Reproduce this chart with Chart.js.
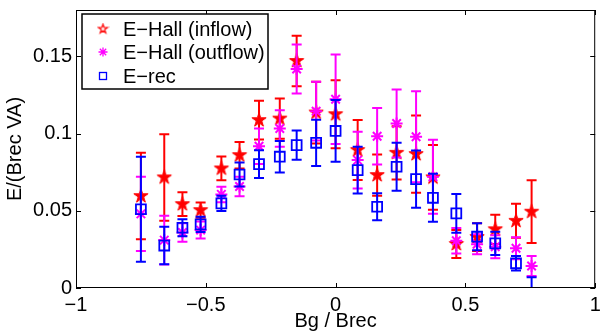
<!DOCTYPE html>
<html>
<head>
<meta charset="utf-8">
<title>E-Hall vs Bg/Brec</title>
<script src="https://cdn.jsdelivr.net/npm/chart.js"></script>
<style>
  html, body { margin: 0; padding: 0; background: #ffffff; }
</style>
</head>
<body>
<canvas id="myChart" width="604" height="333"></canvas>
<script>
// guide field Bg/Brec, shared by all three series
const bg = [-0.75, -0.66, -0.59, -0.52, -0.44, -0.37, -0.295, -0.215, -0.15, -0.075, 0,
            0.085, 0.16, 0.235, 0.31, 0.375, 0.465, 0.545, 0.615, 0.695, 0.755];

const hallIn    = [0.0595, 0.0716, 0.0543, 0.0504, 0.0774, 0.086, 0.1087, 0.1097, 0.147, 0.1136, 0.1125,
                   0.0893, 0.0731, 0.0875, 0.0867, 0.0716, 0.0285, 0.033, 0.038, 0.0435, 0.0494];
const hallInErr = [0.028, 0.028, 0.0077, 0.0049, 0.0077, 0.0086, 0.0125, 0.013, 0.0163, 0.02, 0.022,
                   0.0194, 0.0134, 0.0172, 0.025, 0.021, 0.009, 0.009, 0.0095, 0.011, 0.0203];

const hallOut    = [0.048, 0.031, 0.0359, 0.0375, 0.0606, 0.0657, 0.0918, 0.1033, 0.1418, 0.1145, 0.1222,
                    0.0828, 0.0983, 0.1065, 0.0979, 0.072, 0.0306, 0.0283, 0.0267, 0.0257, 0.0142];
const hallOutErr = [0.024, 0.0158, 0.006, 0.0055, 0.005, 0.0063, 0.0115, 0.0118, 0.0158, 0.019, 0.029,
                    0.0183, 0.0183, 0.022, 0.0295, 0.024, 0.0083, 0.0065, 0.0075, 0.0071, 0.0065];

const eRec    = [0.051, 0.0275, 0.039, 0.0412, 0.0548, 0.0735, 0.0802, 0.085, 0.0925, 0.094, 0.1017,
                 0.0763, 0.0526, 0.0785, 0.0705, 0.0584, 0.0483, 0.0332, 0.0289, 0.016, -0.005];
const eRecErr = [0.034, 0.0122, 0.0055, 0.0049, 0.005, 0.0078, 0.009, 0.0102, 0.0095, 0.015, 0.02,
                 0.0151, 0.0087, 0.0155, 0.0185, 0.0155, 0.0125, 0.0088, 0.0076, 0.0047, 0.012];

const xTicks = [-1, -0.5, 0, 0.5, 1];
const yTicks = [0, 0.05, 0.1, 0.15];

const FONT = { family: 'Liberation Sans', size: 20 };

function starImage(R, fill, lw) {
    var size = Math.ceil(2 * R + lw + 2);
    var c = document.createElement('canvas');
    c.width = size; c.height = size;
    var g = c.getContext('2d');
    g.translate(size / 2, size / 2);
    g.beginPath();
    for (var k = 0; k < 10; k++) {
        var r = k % 2 ? R * 0.382 : R;
        var a = -Math.PI / 2 + k * Math.PI / 5;
        g.lineTo(r * Math.cos(a), r * Math.sin(a));
    }
    g.closePath();
    if (fill) { g.fillStyle = fill; g.fill(); }
    g.strokeStyle = '#ff0000';
    g.lineWidth = lw;
    g.stroke();
    return c;
}

const redStar = starImage(7.5, '#ff0000', 1);
const legendStar = starImage(4.8, null, 1.2);

function pts(ys) { return bg.map((x, i) => ({ x: x, y: ys[i] })); }

function fmt(v) { return v < 0 ? '\u2212' + Math.abs(v) : String(v); }

const extras = {
    id: 'extras',
    beforeDatasetDraw(chart, args) {
        const ds = chart.data.datasets[args.index];
        const ys = chart.scales.y, area = chart.chartArea, ctx = chart.ctx;
        ctx.save();
        ctx.beginPath();
        ctx.rect(area.left, area.top, area.right - area.left, area.bottom - area.top);
        ctx.clip();
        ctx.strokeStyle = ds.borderColor;
        ctx.lineWidth = 2;
        args.meta.data.forEach((p, i) => {
            const v = ds.data[i].y, e = ds.err[i];
            const top = ys.getPixelForValue(v + e), bot = ys.getPixelForValue(v - e);
            ctx.beginPath();
            ctx.moveTo(p.x, top); ctx.lineTo(p.x, bot);
            ctx.moveTo(p.x - 5, top); ctx.lineTo(p.x + 5, top);
            ctx.moveTo(p.x - 5, bot); ctx.lineTo(p.x + 5, bot);
            ctx.stroke();
        });
        ctx.restore();
    },
    afterDatasetsDraw(chart) {
        const { ctx, chartArea: a, scales: { x, y } } = chart;
        ctx.save();
        ctx.strokeStyle = '#000';
        ctx.lineWidth = 1;
        ctx.strokeRect(a.left + 0.5, a.top + 0.5, a.right - a.left - 1, a.bottom - a.top - 1);
        ctx.beginPath();
        xTicks.forEach(v => {
            const px = Math.round(x.getPixelForValue(v)) + 0.5;
            ctx.moveTo(px, a.bottom); ctx.lineTo(px, a.bottom - 5);
            ctx.moveTo(px, a.top); ctx.lineTo(px, a.top + 5);
        });
        yTicks.forEach(v => {
            const py = Math.round(y.getPixelForValue(v)) + 0.5;
            ctx.moveTo(a.left, py); ctx.lineTo(a.left + 5, py);
            ctx.moveTo(a.right, py); ctx.lineTo(a.right - 5, py);
        });
        ctx.stroke();
        ctx.restore();
    },
    afterDraw(chart) {
        // legend box in the upper left corner of the axes
        const ctx = chart.ctx;
        const L = 82, T = 14, W = 186, H = 75;
        ctx.save();
        ctx.fillStyle = '#fff';
        ctx.fillRect(L, T, W, H);
        ctx.strokeStyle = '#000';
        ctx.lineWidth = 1.5;
        ctx.strokeRect(L, T, W, H);
        ctx.font = FONT.size + 'px ' + FONT.family;
        ctx.textBaseline = 'middle';
        ctx.fillStyle = '#000';
        const rows = [29, 52, 76];
        chart.data.datasets.forEach((ds, i) => {
            const cy = rows[i], cx = 103;
            ctx.strokeStyle = ds.borderColor;
            ctx.lineWidth = 1.3;
            if (i === 0) {
                ctx.drawImage(legendStar, cx - legendStar.width / 2, cy - legendStar.height / 2);
            } else if (i === 1) {
                ctx.beginPath();
                for (let k = 0; k < 4; k++) {
                    const ang = k * Math.PI / 4;
                    ctx.moveTo(cx - 4.5 * Math.cos(ang), cy - 4.5 * Math.sin(ang));
                    ctx.lineTo(cx + 4.5 * Math.cos(ang), cy + 4.5 * Math.sin(ang));
                }
                ctx.stroke();
            } else {
                ctx.strokeRect(cx - 3.5, cy - 3.5, 7, 7);
            }
            ctx.fillStyle = '#000';
            ctx.fillText(ds.label, 123, cy + 1);
        });
        ctx.restore();
    }
};

var ctx = document.getElementById('myChart').getContext('2d');
var myChart = new Chart(ctx, {
    type: 'scatter',
    data: {
        datasets: [
            { label: 'E\u2212Hall (inflow)', data: pts(hallIn), err: hallInErr, order: 3,
              borderColor: '#ff0000', backgroundColor: '#ff0000', pointStyle: redStar, pointRadius: 7 },
            { label: 'E\u2212Hall (outflow)', data: pts(hallOut), err: hallOutErr, order: 2,
              borderColor: '#ff00ff', backgroundColor: '#ff00ff', pointStyle: 'star', pointRadius: 6, borderWidth: 2 },
            { label: 'E\u2212rec', data: pts(eRec), err: eRecErr, order: 1,
              borderColor: '#0000ff', backgroundColor: 'rgba(0,0,0,0)', pointStyle: 'rect', pointRadius: 7, borderWidth: 1.8 }
        ]
    },
    options: {
        responsive: false,
        animation: false,
        clip: 0,
        layout: { padding: { top: 10, right: 2, left: 0, bottom: 0 } },
        plugins: { legend: { display: false }, tooltip: { enabled: false } },
        scales: {
            x: {
                type: 'linear', min: -1, max: 1,
                afterBuildTicks: s => { s.ticks = xTicks.map(v => ({ value: v })); },
                afterFit: s => { s.height = 45; s.paddingLeft = 0; s.paddingRight = 0; },
                grid: { display: false, drawTicks: false },
                border: { display: false },
                ticks: { color: '#000', font: FONT, padding: 5, maxRotation: 0, autoSkip: false, callback: v => fmt(v) },
                title: { display: true, text: 'Bg / Brec', color: '#000', font: FONT, padding: { top: 0, bottom: 0 } }
            },
            y: {
                type: 'linear', min: 0, max: 0.18,
                afterBuildTicks: s => { s.ticks = yTicks.map(v => ({ value: v })); },
                afterFit: s => { s.width = 76; s.paddingTop = 0; s.paddingBottom = 0; },
                grid: { display: false, drawTicks: false },
                border: { display: false },
                ticks: { color: '#000', font: FONT, padding: 4, autoSkip: false, callback: v => fmt(v) },
                title: { display: true, text: 'E/(Brec VA)', color: '#000', font: FONT, padding: { top: 3, bottom: 0 } }
            }
        }
    },
    plugins: [extras]
});
</script>
</body>
</html>
